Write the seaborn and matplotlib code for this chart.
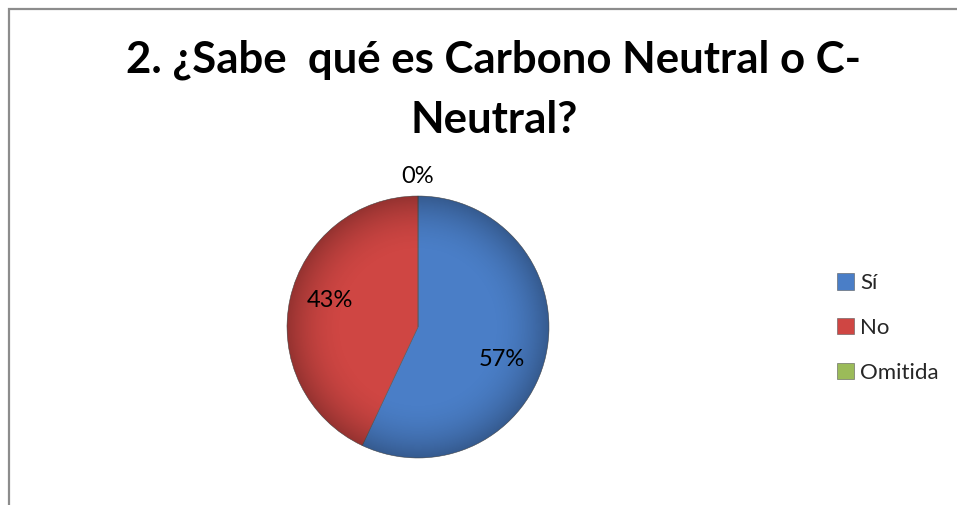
import numpy as np
import matplotlib
matplotlib.use("Agg")
import matplotlib.pyplot as plt
import matplotlib.patches as mpatches
import seaborn as sns

# data
categories = ["Sí", "No", "Omitida"]
values = [57, 43, 0]
colors = ["#4A7EC7", "#CF4643", "#9BBB59"]
title = "2. ¿Sabe  qué es Carbono Neutral o C-\nNeutral?"

sns.set_theme(style="white")
plt.rcParams["font.family"] = ["Lato", "DejaVu Sans"]

W, H = 957, 505
fig = plt.figure(figsize=(W / 100, H / 100), dpi=100)

# outer chart border (only top / left visible in the crop)
fig.patches.append(mpatches.Rectangle((8.5 / W, -0.2), 1.2, (H - 8.5) / H + 0.2,
                                      transform=fig.transFigure, fill=False,
                                      edgecolor="#8c8c8c", lw=1.6))

fig.text(494 / W, 1 - 89.5 / H, title, ha="center", va="center",
         fontsize=31.5, fontweight="bold", linespacing=1.6, color="black")

cx, cy, r = 418, 327, 131
ax = fig.add_axes([(cx - r) / W, (H - cy - r) / H, 2 * r / W, 2 * r / H])
wedges, texts, autotexts = ax.pie(values, colors=colors, startangle=90, counterclock=False,
                                  autopct="%1.0f%%", pctdistance=0.69,
                                  wedgeprops=dict(edgecolor="#5a5a5a", linewidth=0.4),
                                  textprops=dict(fontsize=17, color="black"))
# label placement as in the original (zero slice label sits outside)
autotexts[0].set_position((0.64, -0.25))
autotexts[1].set_position((-0.67, 0.2))
autotexts[2].set_position((0, 1.15))

# soft radial shading like the office-style pie
yy, xx = np.mgrid[-1:1:400j, -1:1:400j]
rr = np.sqrt(xx ** 2 + yy ** 2)
shade = np.zeros((400, 400, 4))
shade[..., 3] = np.clip((rr - 0.55) / 0.45, 0, 1) ** 2 * 0.28
im = ax.imshow(shade, extent=(-1, 1, -1, 1), zorder=3)
im.set_clip_path(mpatches.Circle((0, 0), 1, transform=ax.transData))
for t in autotexts:
    t.set_zorder(5)
ax.set_xlim(-1, 1)
ax.set_ylim(-1, 1)
ax.set_aspect("equal")
ax.axis("off")

fig.legend(wedges, categories, loc="center left", bbox_to_anchor=(837 / W, 1 - 328 / H),
           frameon=False, fontsize=16, handlelength=0.75, handleheight=0.75,
           handletextpad=0.3, labelspacing=1.12, borderpad=0, borderaxespad=0)

fig.savefig("out.png", dpi=100, facecolor="white")
